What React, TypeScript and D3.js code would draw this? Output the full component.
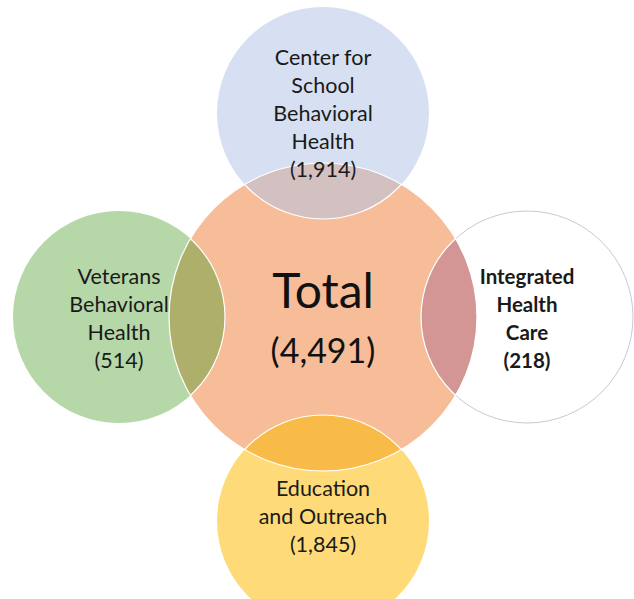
import { useEffect, useRef } from "react";
import * as d3 from "d3";

// satellites, clockwise from the top
const programs = [
  ["Center for", "School", "Behavioral", "Health"],
  ["Integrated", "Health", "Care"],
  ["Education", "and Outreach"],
  ["Veterans", "Behavioral", "Health"],
];
const counts = [1914, 218, 1845, 514];
const totalCount = 4491;
const fills = ["#d6e0f2", "#ffffff", "#fedb78", "#b6d7a8"];
const overlapFills = ["#d3c0c0", "#d49595", "#f9bb47", "#adaf6b"];
const boldLabel = [false, true, false, false];

const width = 634;
const height = 599;

const App = () => {
  const svgRef = useRef<SVGSVGElement | null>(null);

  useEffect(() => {
    const svg = d3.select(svgRef.current);
    svg.selectAll("*").remove();

    const cx = 323;
    const cy = 317;
    const bigR = 154;
    const smallR = 106;
    const dist = 204;
    const fmt = d3.format(",");
    const labelShift = [0, 2, -5, 1]; // nudge label blocks to match

    const angle = d3
      .scaleLinear()
      .domain([0, programs.length])
      .range([0, 2 * Math.PI]);

    const nodes = programs.map((lines, i) => {
      const [x, y] = d3.pointRadial(angle(i), dist);
      return { lines, count: counts[i], x: cx + x, y: cy + y, i };
    });

    const g = svg.append("g");

    svg
      .append("defs")
      .append("clipPath")
      .attr("id", "total-clip")
      .append("circle")
      .attr("cx", cx)
      .attr("cy", cy)
      .attr("r", bigR);

    // big circle
    g.append("circle")
      .attr("cx", cx)
      .attr("cy", cy)
      .attr("r", bigR)
      .attr("fill", "#f6bd98");

    // satellite circles
    g.selectAll(".sat")
      .data(nodes)
      .enter()
      .append("circle")
      .attr("cx", (d) => d.x)
      .attr("cy", (d) => d.y)
      .attr("r", smallR)
      .attr("fill", (d) => fills[d.i])
      .attr("stroke", (d) => (d.i === 1 ? "#c9c9d3" : "none"))
      .attr("stroke-width", 1);

    // overlaps with the total circle
    g.append("g")
      .attr("clip-path", "url(#total-clip)")
      .selectAll("circle")
      .data(nodes)
      .enter()
      .append("circle")
      .attr("cx", (d) => d.x)
      .attr("cy", (d) => d.y)
      .attr("r", smallR)
      .attr("fill", (d) => overlapFills[d.i])
      .attr("stroke", "#fff")
      .attr("stroke-width", 1.2);

    g.append("circle")
      .attr("cx", cx)
      .attr("cy", cy)
      .attr("r", bigR)
      .attr("fill", "none")
      .attr("stroke", "#fff")
      .attr("stroke-width", 1.2);

    // labels
    const lineH = 28;
    nodes.forEach((d) => {
      const all = [...d.lines, `(${fmt(d.count)})`];
      const top = d.y - ((all.length - 1) * lineH) / 2 + labelShift[d.i];
      const t = g
        .append("text")
        .attr("text-anchor", "middle")
        .attr("font-family", "Lato, 'Open Sans', sans-serif")
        .attr("font-size", d.i === 1 ? 20.5 : 21.5)
        .attr("font-weight", boldLabel[d.i] ? "bold" : "normal")
        .attr("fill", "#1a1a1a");
      all.forEach((line, k) => {
        t.append("tspan")
          .attr("x", d.x)
          .attr("y", top + k * lineH)
          .attr("dy", "0.35em")
          .text(line);
      });
    });

    g.append("text")
      .attr("x", cx)
      .attr("y", cy - 26)
      .attr("dy", "0.35em")
      .attr("text-anchor", "middle")
      .attr("font-family", "Lato, 'Open Sans', sans-serif")
      .attr("font-size", 48)
      .attr("fill", "#111")
      .text("Total");

    g.append("text")
      .attr("x", cx)
      .attr("y", cy + 34)
      .attr("dy", "0.35em")
      .attr("text-anchor", "middle")
      .attr("font-family", "Lato, 'Open Sans', sans-serif")
      .attr("font-size", 34)
      .attr("fill", "#111")
      .text(`(${fmt(totalCount)})`);
  }, []);

  return (
    <svg
      ref={svgRef}
      width={width}
      height={height}
      style={{ position: "absolute", left: 0, top: 0, background: "#fff" }}
    />
  );
};

export default App;
